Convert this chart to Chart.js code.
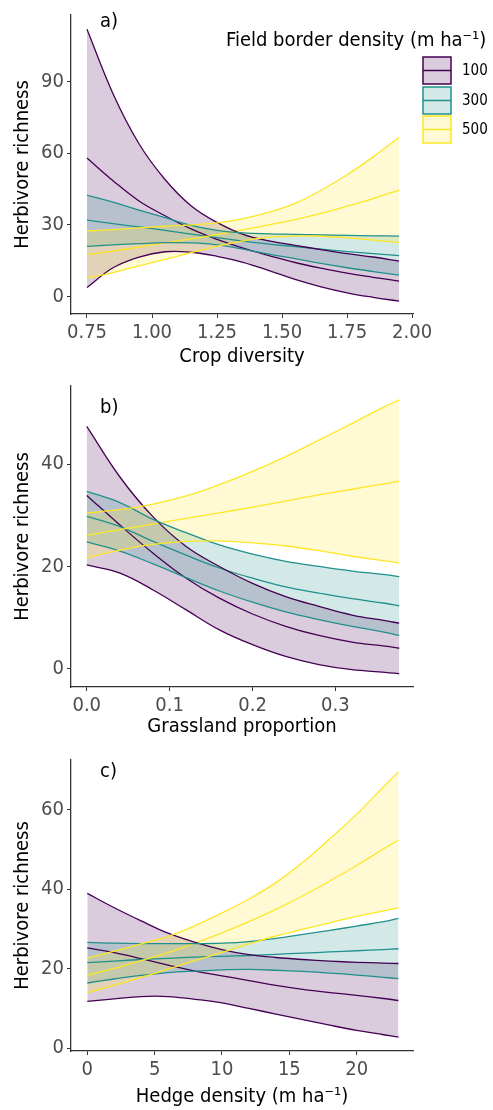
<!DOCTYPE html>
<html>
<head>
<meta charset="utf-8">
<script src="https://cdn.jsdelivr.net/npm/chart.js@4.4.1/dist/chart.umd.min.js"></script>
<style>
  body { margin: 0; background: #fff; }
  .panel { position: absolute; left: 0; width: 493px; height: 370px; }
</style>
</head>
<body>
<div class="panel" style="top:0"><canvas id="chartA" width="493" height="370"></canvas></div>
<div class="panel" style="top:370px"><canvas id="chartB" width="493" height="370"></canvas></div>
<div class="panel" style="top:740px"><canvas id="chartC" width="493" height="370"></canvas></div>
<script>
// field border density levels (legend)
const levels = ["100", "300", "500"];
const levelColors = ["#440154", "#21908C", "#FDE725"];
const levelFills = ["rgba(68,1,84,0.2)", "rgba(33,144,140,0.2)", "rgba(253,231,37,0.2)"];

// a) crop diversity
const cropDiversity = [0.75, 0.85, 0.95, 1.05, 1.15, 1.25, 1.35, 1.45, 1.55, 1.65, 1.75, 1.85, 1.95];
const a100Low  = [3.7, 12, 16.5, 18.7, 18.5, 16.8, 14.3, 10.8, 7.1, 4.0, 1.5, -0.4, -2.0];
const a100Mid  = [58, 48.5, 40, 33.8, 28.3, 23.9, 20.2, 17.1, 14.2, 11.8, 9.7, 8.0, 6.4];
const a100High = [112, 85, 64, 49, 38, 31, 26, 23.3, 21.4, 19.6, 17.9, 16.5, 14.8];
const a300Low  = [21, 21.6, 22.1, 22.5, 22.4, 21.6, 19.8, 17.7, 15.8, 13.8, 12.0, 10.4, 8.9];
const a300Mid  = [32, 30.5, 29.1, 27.7, 26.1, 24.6, 23.2, 21.9, 20.9, 19.8, 18.8, 17.9, 17.1];
const a300High = [42.5, 39.5, 36.2, 33.0, 29.8, 27.7, 26.6, 26.2, 26.0, 25.8, 25.6, 25.4, 25.3];
const a500Low  = [7.6, 10.0, 12.8, 15.5, 18.3, 21.0, 23.3, 24.8, 25.3, 25.2, 24.5, 23.6, 22.5];
const a500Mid  = [17.5, 19.0, 20.7, 22.4, 24.1, 25.9, 27.9, 30.0, 32.2, 34.8, 37.8, 41.0, 44.6];
const a500High = [27.4, 28.0, 28.7, 29.4, 30.0, 30.8, 32.6, 35.3, 39.0, 44.5, 51.0, 58.5, 66.7];
const aXTicks = [0.75, 1.0, 1.25, 1.5, 1.75, 2.0];
const aXLabels = ["0.75", "1.00", "1.25", "1.50", "1.75", "2.00"];
const aYTicks = [0, 30, 60, 90];

// b) grassland proportion
const grassland = [0, 0.04, 0.08, 0.12, 0.16, 0.20, 0.24, 0.28, 0.32, 0.36, 0.377];
const b100Low  = [20.3, 18.7, 15.4, 11.5, 7.6, 4.7, 2.4, 0.8, -0.2, -0.7, -1.0];
const b100Mid  = [33.9, 28.1, 22.6, 17.7, 13.8, 10.7, 8.3, 6.5, 5.2, 4.4, 4.0];
const b100High = [47.4, 37.5, 29.7, 23.9, 20.0, 16.7, 14.1, 12.2, 10.5, 9.4, 8.9];
const b300Low  = [24.8, 23.0, 20.5, 17.8, 15.2, 13.0, 11.1, 9.6, 8.3, 7.1, 6.5];
const b300Mid  = [29.8, 27.8, 24.9, 22.2, 19.7, 17.7, 16.0, 14.8, 13.7, 12.8, 12.3];
const b300High = [34.7, 32.5, 29.2, 26.6, 24.2, 22.4, 21.0, 20.0, 19.1, 18.4, 18.0];
const b500Low  = [21.7, 23.2, 24.3, 24.9, 25.0, 24.6, 24.0, 23.1, 22.0, 21.1, 20.7];
const b500Mid  = [26.1, 27.2, 28.3, 29.4, 30.5, 31.6, 32.8, 34.0, 35.1, 36.2, 36.7];
const b500High = [30.5, 31.1, 32.2, 33.8, 36.0, 38.6, 41.5, 44.7, 48.0, 51.3, 52.6];
const bXTicks = [0, 0.1, 0.2, 0.3];
const bXLabels = ["0.0", "0.1", "0.2", "0.3"];
const bYTicks = [0, 20, 40];

// c) hedge density
const hedgeDensity = [0, 2, 4, 6, 8, 10, 12, 14, 16, 18, 20, 22, 23.1];
const c100Low  = [11.8, 12.4, 13.0, 13.0, 12.3, 11.4, 10.0, 8.6, 7.2, 5.8, 4.5, 3.4, 2.8];
const c100Mid  = [25.2, 24.0, 22.5, 20.9, 19.4, 18.2, 17.0, 15.8, 14.8, 14.0, 13.3, 12.5, 12.0];
const c100High = [38.9, 35.3, 32.0, 28.9, 26.6, 24.8, 23.5, 22.8, 22.3, 21.9, 21.6, 21.4, 21.3];
const c300Low  = [16.4, 17.4, 18.3, 19.0, 19.4, 19.7, 19.8, 19.6, 19.3, 18.9, 18.4, 17.8, 17.5];
const c300Mid  = [21.5, 21.9, 22.3, 22.6, 22.9, 23.1, 23.3, 23.6, 23.9, 24.2, 24.5, 24.8, 25.0];
const c300High = [26.6, 26.4, 26.3, 26.3, 26.3, 26.4, 26.8, 27.6, 28.6, 29.6, 30.7, 31.8, 32.6];
const c500Low  = [13.9, 15.8, 17.8, 19.9, 22.0, 24.1, 26.2, 28.2, 29.9, 31.5, 33.1, 34.5, 35.3];
const c500Mid  = [18.3, 20.1, 22.0, 24.0, 26.4, 29.0, 31.8, 34.9, 38.3, 42.0, 45.9, 50.1, 52.3];
const c500High = [22.7, 24.4, 26.2, 28.1, 30.8, 34.0, 37.5, 41.6, 46.7, 52.6, 58.8, 65.7, 69.4];
const cXTicks = [0, 5, 10, 15, 20];
const cXLabels = ["0", "5", "10", "15", "20"];
const cYTicks = [0, 20, 40, 60];

const FONT = '"DejaVu Sans Condensed", "DejaVu Sans", sans-serif';
const AXIS = "#333333";
const TICK_TEXT = "#4d4d4d";

function pts(xs, ys) {
  return xs.map((x, i) => ({ x: x, y: ys[i] }));
}

// panel letter + legend (only on first panel)
const extras = {
  id: "extras",
  afterDraw(chart, args, opts) {
    const ctx = chart.ctx;
    ctx.save();
    ctx.fillStyle = "#000";
    ctx.textBaseline = "alphabetic";
    ctx.textAlign = "left";
    ctx.font = "20px " + FONT;
    ctx.fillText(opts.tag, 100, opts.tagY);

    if (opts.legend) {
      ctx.fillText("Field border density (m ha\u207B\u00B9)", 226, 46);
      ctx.font = "15px " + FONT;
      ctx.textBaseline = "middle";
      const boxTops = [57, 87, 116];
      levels.forEach((lv, i) => {
        const y = boxTops[i];
        ctx.fillStyle = levelFills[i];
        ctx.fillRect(423, y, 28, 27);
        ctx.strokeStyle = levelColors[i];
        ctx.lineWidth = 1.5;
        ctx.strokeRect(423, y, 28, 27);
        ctx.beginPath();
        ctx.moveTo(423, y + 13.5);
        ctx.lineTo(451, y + 13.5);
        ctx.stroke();
        ctx.fillStyle = "#000";
        ctx.fillText(lv, 462, y + 14);
      });
    }
    ctx.restore();
  }
};

function makePanel(id, p) {
  const lineStyle = { borderWidth: 1.3, pointRadius: 0, tension: 0.4 };
  const datasets = [];
  // ribbons: yellow first so purple is painted underneath (filler draws last dataset first)
  for (let g = p.groups.length - 1; g >= 0; g--) {
    const [low, mid, high] = p.groups[g];
    datasets.push({ data: pts(p.xs, high), borderColor: levelColors[g], fill: false, ...lineStyle });
    datasets.push({ data: pts(p.xs, low), borderColor: levelColors[g], backgroundColor: levelFills[g], fill: "-1", ...lineStyle });
  }
  for (let g = p.groups.length - 1; g >= 0; g--) {
    datasets.push({ data: pts(p.xs, p.groups[g][1]), borderColor: levelColors[g], fill: false, ...lineStyle });
  }

  return new Chart(document.getElementById(id), {
    type: "line",
    data: { datasets: datasets },
    plugins: [extras],
    options: {
      responsive: false,
      devicePixelRatio: 1,
      animation: false,
      layout: { padding: { left: 0, right: 80, top: p.top, bottom: 0 } },
      plugins: {
        legend: { display: false },
        tooltip: { enabled: false },
        filler: { drawTime: "beforeDatasetsDraw" },
        extras: { tag: p.tag, tagY: p.tagY, legend: p.legend }
      },
      scales: {
        x: {
          type: "linear",
          min: p.xMin,
          max: p.xMax,
          afterFit: (s) => { s.height = 370 - p.bottom; },
          afterBuildTicks: (s) => { s.ticks = p.xTicks.map((v) => ({ value: v })); },
          ticks: {
            autoSkip: false, maxRotation: 0, padding: 3,
            color: TICK_TEXT, font: { family: FONT, size: 20 },
            callback: (v, i) => p.xLabels[i]
          },
          grid: { drawOnChartArea: false, drawTicks: true, tickLength: 4, color: AXIS, lineWidth: 1 },
          border: { display: true, color: AXIS, width: 1.3 },
          title: { display: true, text: p.xTitle, color: "#000", font: { family: FONT, size: 20 }, padding: { top: 0, bottom: 1 } }
        },
        y: {
          type: "linear",
          min: p.yMin,
          max: p.yMax,
          afterFit: (s) => { s.width = 71; },
          afterBuildTicks: (s) => { s.ticks = p.yTicks.map((v) => ({ value: v })); },
          ticks: {
            autoSkip: false, padding: 3,
            color: TICK_TEXT, font: { family: FONT, size: 20 }
          },
          grid: { drawOnChartArea: false, drawTicks: true, tickLength: 4, color: AXIS, lineWidth: 1 },
          border: { display: true, color: AXIS, width: 1.3 },
          title: { display: true, text: "Herbivore richness", color: "#000", font: { family: FONT, size: 20 }, padding: { top: 11, bottom: 0 } }
        }
      }
    }
  });
}

makePanel("chartA", {
  xs: cropDiversity,
  groups: [[a100Low, a100Mid, a100High], [a300Low, a300Mid, a300High], [a500Low, a500Mid, a500High]],
  xMin: 0.6885, xMax: 2.0035, yMin: -7.4, yMax: 118,
  xTicks: aXTicks, xLabels: aXLabels, yTicks: aYTicks,
  xTitle: "Crop diversity", tag: "a)", tagY: 27, legend: true,
  top: 13, bottom: 314
});

makePanel("chartB", {
  xs: grassland,
  groups: [[b100Low, b100Mid, b100High], [b300Low, b300Mid, b300High], [b500Low, b500Mid, b500High]],
  xMin: -0.019, xMax: 0.3936, yMin: -3.58, yMax: 55.3,
  xTicks: bXTicks, xLabels: bXLabels, yTicks: bYTicks,
  xTitle: "Grassland proportion", tag: "b)", tagY: 43, legend: false,
  top: 16, bottom: 317
});

makePanel("chartC", {
  xs: hedgeDensity,
  groups: [[c100Low, c100Mid, c100High], [c300Low, c300Mid, c300High], [c500Low, c500Mid, c500High]],
  xMin: -1.21, xMax: 24.18, yMin: -0.68, yMax: 72.4,
  xTicks: cXTicks, xLabels: cXLabels, yTicks: cYTicks,
  xTitle: "Hedge density (m ha\u207B\u00B9)", tag: "c)", tagY: 37, legend: false,
  top: 20, bottom: 311
});
</script>
</body>
</html>
